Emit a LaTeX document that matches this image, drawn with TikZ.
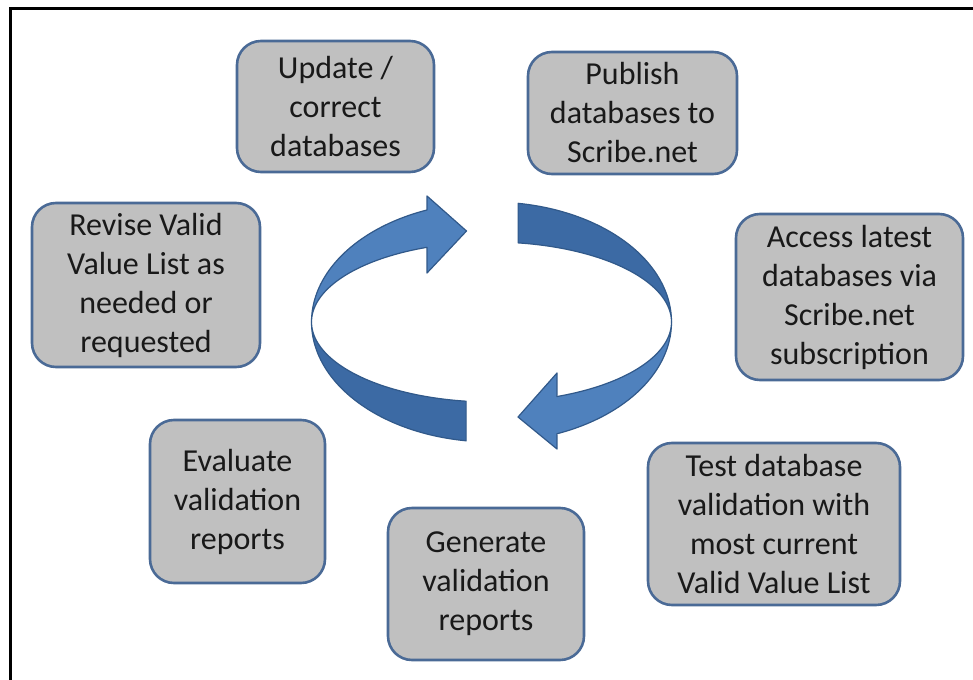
\documentclass[tikz,border=0pt]{standalone}
\usepackage{fontspec}
\setmainfont{Carlito}
\definecolor{boxfill}{HTML}{C0C0C0}
\definecolor{boxline}{HTML}{4A6A96}
\definecolor{ribbonhi}{HTML}{4F81BD}
\definecolor{ribbonlo}{HTML}{3C6AA4}
\definecolor{ribbonedge}{HTML}{31598A}
\tikzset{
  stepbox/.style={draw=boxline, line width=2.6pt, fill=boxfill, rounded corners=24pt,
    align=center, inner sep=0pt, text=black!90,
    font=\fontsize{32}{39}\selectfont},
  ribbonlight/.style={fill=ribbonhi, draw=ribbonedge, line width=1.2pt, line join=round},
  ribbondark/.style={fill=ribbonlo, draw=ribbonedge, line width=1.2pt, line join=round},
}
\begin{document}
\begin{tikzpicture}[x=1pt,y=-1pt]
\useasboundingbox (0,0) rectangle (973,679);
\fill[white] (0,0) rectangle (973,679);
% outer frame (runs off the right and bottom edges)
\draw[line width=3.2pt, black] (10.8,700) -- (10.8,8.5) -- (990,8.5);

% process steps
\node[stepbox, minimum width=197pt, minimum height=131pt] (update) at (335.5,106.5) {Update /\\correct\\databases};
\node[stepbox, minimum width=209pt, minimum height=122pt] (publish) at (632.5,113) {Publish\\databases to\\Scribe.net};
\node[stepbox, minimum width=227pt, minimum height=166pt] (access) at (849.5,297) {Access latest\\databases via\\Scribe.net\\subscription};
\node[stepbox, minimum width=252pt, minimum height=162pt] (test) at (774,524) {Test database\\validation with\\most current\\Valid Value List};
\node[stepbox, minimum width=196pt, minimum height=152pt] (generate) at (486,584) {Generate\\validation\\reports};
\node[stepbox, minimum width=175pt, minimum height=163pt] (evaluate) at (237.5,501.5) {Evaluate\\validation\\reports};
\node[stepbox, minimum width=228pt, minimum height=164pt] (revise) at (146,285) {Revise Valid\\Value List as\\needed or\\requested};

% twisted ribbon cycle: centre (491.5,322), rx 180, outer ry 120, inner ry 80
\def\cx{491.5}\def\cy{322}\def\rx{180}\def\ro{120}\def\ri{80}
% left arrow, lower (darker) half
\path[ribbondark] plot[domain=98.1:180, samples=50, variable=\t] ({\cx+\rx*cos(\t)},{\cy+\ro*sin(\t)})
  -- plot[domain=180:98.1, samples=50, variable=\t] ({\cx+\rx*cos(\t)},{\cy+\ri*sin(\t)}) -- cycle;
% left arrow, upper (lighter) half with head
\path[ribbonlight] plot[domain=180:249, samples=50, variable=\t] ({\cx+\rx*cos(\t)},{\cy+\ro*sin(\t)})
  -- (427,196) -- (466.5,231) -- (427,273)
  -- plot[domain=249:180, samples=50, variable=\t] ({\cx+\rx*cos(\t)},{\cy+\ri*sin(\t)}) -- cycle;
% right arrow, upper (darker) half
\path[ribbondark] plot[domain=278.5:360, samples=50, variable=\t] ({\cx+\rx*cos(\t)},{\cy+\ro*sin(\t)})
  -- plot[domain=360:278.5, samples=50, variable=\t] ({\cx+\rx*cos(\t)},{\cy+\ri*sin(\t)}) -- cycle;
% right arrow, lower (lighter) half with head
\path[ribbonlight] plot[domain=0:68.7, samples=50, variable=\t] ({\cx+\rx*cos(\t)},{\cy+\ro*sin(\t)})
  -- (557,449) -- (518,417) -- (557,373)
  -- plot[domain=68.7:0, samples=50, variable=\t] ({\cx+\rx*cos(\t)},{\cy+\ri*sin(\t)}) -- cycle;
\end{tikzpicture}
\end{document}
